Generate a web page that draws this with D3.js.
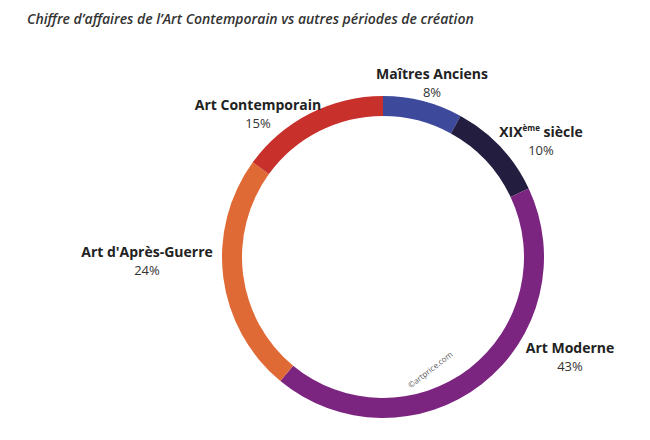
<!DOCTYPE html><html><head><meta charset="utf-8"><script src="https://d3js.org/d3.v7.min.js"></script>
<style>body{margin:0;background:#fff}text{font-family:"Open Sans",sans-serif}</style></head><body><svg width="650" height="440"></svg>
<script>
const categories=["Maîtres Anciens","XIX","Art Moderne","Art d'Après-Guerre","Art Contemporain"];
const values=[8,10,43,24,15];
const colors=["#3d4a9c","#231d3f","#7b2580","#e06a35","#c8302c"];
const labelPos=[[432,79],[541,137],[570,353],[147,257],[258,110]];
const svg=d3.select("svg");
svg.append("text").attr("x",27).attr("y",24).attr("font-size",14).attr("font-style","italic").attr("font-weight",600).attr("fill","#333").text("Chiffre d’affaires de l’Art Contemporain vs autres périodes de création");
const cx=383,cy=257;
const pie=d3.pie().sort(null).value(d=>d)(values);
const arc=d3.arc().innerRadius(141).outerRadius(161);
const g=svg.append("g").attr("transform",`translate(${cx},${cy})`);
g.selectAll("path").data(pie).join("path").attr("d",arc).attr("fill",(d,i)=>colors[i]);
categories.forEach((c,i)=>{
 const [x,y]=labelPos[i];
 const t=svg.append("text").attr("x",x).attr("y",y).attr("text-anchor","middle").attr("font-size",14).attr("font-weight",700).attr("fill","#222");
 if(c==="XIX"){t.append("tspan").text("XIX");t.append("tspan").attr("font-size",8).attr("dy",-6).text("ème");t.append("tspan").attr("dy",6).text(" siècle");}
 else t.text(c);
 svg.append("text").attr("x",x).attr("y",y+18).attr("text-anchor","middle").attr("font-size",13).attr("fill","#333").text(values[i]+"%");
});
svg.append("text").attr("transform","translate(432,372) rotate(-38)").attr("text-anchor","middle").attr("font-size",8).attr("fill","#555").text("©artprice.com");
</script></body></html>
